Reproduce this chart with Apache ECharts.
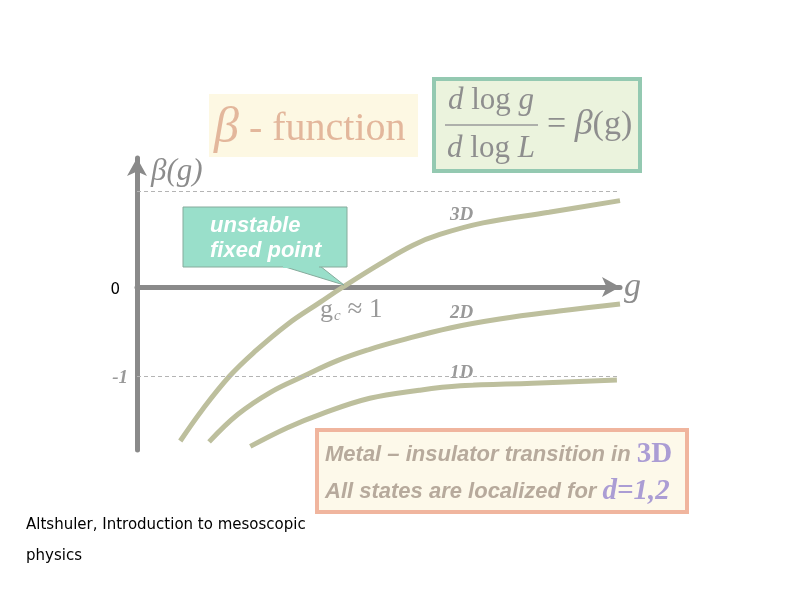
<!DOCTYPE html>
<html>
<head>
<meta charset="utf-8">
<script src="https://cdn.jsdelivr.net/npm/echarts@6/dist/echarts.min.js"></script>
<style>
  html, body {margin: 0; padding: 0; background: #fff;}
  #chart {width: 794px; height: 595px;}
</style>
</head>
<body>
<div id="chart"></div>
<script>
// beta function curves, x = g (g_c = 1), y = beta(g)
var curve3D = [[0.21, -1.73], [0.32, -1.37], [0.45, -1.0], [0.57, -0.73], [0.73, -0.42], [0.89, -0.17], [1.0, 0], [1.18, 0.26], [1.34, 0.47], [1.47, 0.59], [1.68, 0.72], [2.0, 0.84], [2.345, 0.97]];
var curve2D = [[0.35, -1.74], [0.49, -1.43], [0.65, -1.18], [0.81, -1.0], [0.97, -0.83], [1.13, -0.70], [1.28, -0.60], [1.52, -0.46], [1.76, -0.36], [2.05, -0.27], [2.345, -0.19]];
var curve1D = [[0.55, -1.79], [0.73, -1.58], [0.89, -1.43], [1.13, -1.25], [1.37, -1.16], [1.57, -1.11], [1.92, -1.08], [2.33, -1.045]];
var curveNames = ['3D', '2D', '1D'];
var yTickValues = [-1, 0];
var guideLines = [1.08, -1];

var serif = '"Liberation Serif", "DejaVu Serif", serif';
var sans = '"Liberation Sans", Arial, sans-serif';
var curveColor = '#bdbf9d';
var axisColor = '#8a8a8a';

var chart = echarts.init(document.getElementById('chart'));

function curveSeries(name, data, withLines) {
  var s = {
    name: name,
    type: 'line',
    data: data,
    smooth: 0.4,
    showSymbol: false,
    silent: true,
    z: 3,
    lineStyle: {width: 5, color: curveColor}
  };
  if (withLines) {
    s.markLine = {
      silent: true,
      symbol: 'none',
      label: {show: false},
      lineStyle: {color: '#b4b4b4', width: 1, type: [4, 3]},
      data: guideLines.map(function (v) { return {yAxis: v}; })
    };
  }
  return s;
}

chart.setOption({
  animation: false,
  backgroundColor: '#fff',
  grid: {left: 137, right: 174, top: 158, bottom: 145},
  xAxis: {
    type: 'value', min: 0, max: 2.345,
    name: 'g', nameGap: 4,
    nameTextStyle: {fontFamily: serif, fontStyle: 'italic', fontSize: 34, color: '#8c8c8c', padding: [0, 0, 8, 0]},
    axisLine: {onZero: true, symbol: ['none', 'arrow'], symbolSize: [15, 18], lineStyle: {color: axisColor, width: 5}},
    axisTick: {show: false}, axisLabel: {show: false}, splitLine: {show: false}
  },
  yAxis: {
    type: 'value', min: -1.831, max: 1.449,
    name: 'β(g)', nameGap: -14,
    nameTextStyle: {fontFamily: serif, fontStyle: 'italic', fontSize: 31, color: '#8c8c8c', align: 'left', verticalAlign: 'middle', padding: [0, 0, 0, 14]},
    axisLine: {symbol: ['none', 'arrow'], symbolSize: [15, 18], lineStyle: {color: axisColor, width: 5}},
    axisTick: {show: false}, splitLine: {show: false},
    axisLabel: {
      customValues: yTickValues,
      margin: 9,
      formatter: function (v) { return v === 0 ? '{z|0}' : '{m|-1}'; },
      rich: {
        z: {fontFamily: '"DejaVu Sans", sans-serif', fontSize: 15, color: '#000', padding: [6, 8, 0, 0]},
        m: {fontFamily: serif, fontStyle: 'italic', fontWeight: 'bold', fontSize: 19, color: '#999', padding: [4, 0, 0, 0]}
      }
    }
  },
  series: [
    curveSeries(curveNames[0], curve3D, true),
    curveSeries(curveNames[1], curve2D, false),
    curveSeries(curveNames[2], curve1D, false)
  ],
  graphic: [
    // title box
    {type: 'rect', shape: {x: 209, y: 94, width: 209, height: 63}, style: {fill: '#fdf8e3'}, z: 1},
    {type: 'text', x: 214, y: 129, style: {
      text: '{b|β}{t| - function}',
      textVerticalAlign: 'middle',
      rich: {
        b: {fontFamily: serif, fontStyle: 'italic', fontSize: 50, fill: '#e3b79c'},
        t: {fontFamily: serif, fontSize: 40, fill: '#e3b79c'}
      }
    }, z: 2},
    // formula box
    {type: 'rect', shape: {x: 434, y: 79, width: 206, height: 92}, style: {fill: '#ebf3dd', stroke: '#94c9b1', lineWidth: 4}, z: 1},
    {type: 'text', x: 491, y: 101, style: {
      text: '{i|d} log {i|g}', textAlign: 'center', textVerticalAlign: 'middle',
      font: '31px ' + serif, fill: '#8e8e8e',
      rich: {i: {fontFamily: serif, fontStyle: 'italic', fontSize: 31, fill: '#8e8e8e'}}
    }, z: 2},
    {type: 'line', shape: {x1: 445, y1: 125, x2: 538, y2: 125}, style: {stroke: '#9a9a9a', lineWidth: 1.5}, z: 2},
    {type: 'text', x: 491, y: 149, style: {
      text: '{i|d} log {i|L}', textAlign: 'center', textVerticalAlign: 'middle',
      font: '31px ' + serif, fill: '#8e8e8e',
      rich: {i: {fontFamily: serif, fontStyle: 'italic', fontSize: 31, fill: '#8e8e8e'}}
    }, z: 2},
    {type: 'text', x: 547, y: 125, style: {
      text: '= {i|β}(g)', textVerticalAlign: 'middle',
      font: '34px ' + serif, fill: '#8e8e8e',
      rich: {i: {fontFamily: serif, fontStyle: 'italic', fontSize: 36, fill: '#8e8e8e'}}
    }, z: 2},
    // unstable fixed point callout
    {type: 'polygon', shape: {points: [[282, 266], [320, 266], [344, 285]]}, style: {fill: '#99dfca', stroke: '#86ab9c', lineWidth: 1}, z: 5},
    {type: 'rect', shape: {x: 183, y: 207, width: 164, height: 60}, style: {fill: '#99dfca', stroke: '#86ab9c', lineWidth: 1}, z: 5},
    {type: 'rect', shape: {x: 283, y: 264, width: 36, height: 4}, style: {fill: '#99dfca'}, z: 6},
    {type: 'text', x: 210, y: 226, style: {text: 'unstable', font: 'italic bold 22px ' + sans, fill: '#fff', textVerticalAlign: 'middle'}, z: 6},
    {type: 'text', x: 210, y: 251, style: {text: 'fixed point', font: 'italic bold 22px ' + sans, fill: '#fff', textVerticalAlign: 'middle'}, z: 6},
    // curve labels
    {type: 'text', x: 450, y: 215, style: {text: curveNames[0], font: 'italic bold 19px ' + serif, fill: '#999', textVerticalAlign: 'middle'}, z: 4},
    {type: 'text', x: 450, y: 313, style: {text: curveNames[1], font: 'italic bold 19px ' + serif, fill: '#999', textVerticalAlign: 'middle'}, z: 4},
    {type: 'text', x: 450, y: 373, style: {text: curveNames[2], font: 'italic bold 19px ' + serif, fill: '#999', textVerticalAlign: 'middle', backgroundColor: '#fff'}, z: 4},
    // g_c label
    {type: 'text', x: 320, y: 310, style: {
      text: '{g|g}{c|c}{t| ≈ 1}', textVerticalAlign: 'middle',
      rich: {
        g: {fontFamily: serif, fontSize: 26, fill: '#9a9a9a'},
        c: {fontFamily: serif, fontStyle: 'italic', fontSize: 15, fill: '#9a9a9a', padding: [12, 0, 0, 1]},
        t: {fontFamily: serif, fontSize: 27, fill: '#9a9a9a'}
      }
    }, z: 4},
    // conclusion box
    {type: 'rect', shape: {x: 317, y: 430, width: 370, height: 82}, style: {fill: '#fdf9ea', stroke: '#f0b59e', lineWidth: 4}, z: 5},
    {type: 'text', x: 325, y: 455, style: {
      text: '{t|Metal – insulator transition in }{p|3D}', textVerticalAlign: 'middle',
      rich: {
        t: {fontFamily: sans, fontStyle: 'italic', fontWeight: 'bold', fontSize: 22, fill: '#b7aa9c'},
        p: {fontFamily: serif, fontWeight: 'bold', fontSize: 29, fill: '#ab9dd4'}
      }
    }, z: 6},
    {type: 'text', x: 325, y: 492, style: {
      text: '{t|All states are localized for }{p|d=1,2}', textVerticalAlign: 'middle',
      rich: {
        t: {fontFamily: sans, fontStyle: 'italic', fontWeight: 'bold', fontSize: 22, fill: '#b7aa9c'},
        p: {fontFamily: serif, fontStyle: 'italic', fontWeight: 'bold', fontSize: 29, fill: '#ab9dd4'}
      }
    }, z: 6},
    // reference
    {type: 'text', x: 26, y: 525, style: {text: 'Altshuler, Introduction to mesoscopic', font: '15px "DejaVu Sans", sans-serif', fill: '#000', textVerticalAlign: 'middle'}, z: 6},
    {type: 'text', x: 26, y: 556, style: {text: 'physics', font: '15px "DejaVu Sans", sans-serif', fill: '#000', textVerticalAlign: 'middle'}, z: 6}
  ]
});

window.addEventListener('resize', function () {
  if (chart != null && chart != undefined) {
    chart.resize();
  }
});
</script>
</body>
</html>
